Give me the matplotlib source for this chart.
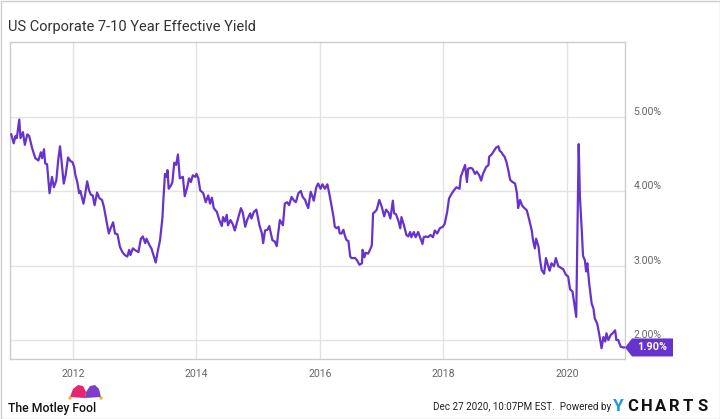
import matplotlib
matplotlib.use('Agg')
import matplotlib.pyplot as plt
from matplotlib.patches import Rectangle, Polygon, Circle
import matplotlib.transforms as mtransforms

# US Corporate 7-10 Year Effective Yield (decimal year, %)
years = [
    2011.00, 2011.04, 2011.07, 2011.09, 2011.13, 2011.15, 2011.19, 2011.22, 2011.26, 2011.29,
    2011.34, 2011.39, 2011.44, 2011.48, 2011.50, 2011.53, 2011.55, 2011.58, 2011.62, 2011.66,
    2011.69, 2011.73, 2011.76, 2011.79, 2011.81, 2011.85, 2011.88, 2011.92, 2011.96, 2011.99,
    2012.02, 2012.04, 2012.07, 2012.10, 2012.12, 2012.17, 2012.20, 2012.23, 2012.26, 2012.29,
    2012.32, 2012.35, 2012.39, 2012.43, 2012.47, 2012.50, 2012.54, 2012.58, 2012.61, 2012.65,
    2012.68, 2012.72, 2012.73, 2012.76, 2012.80, 2012.84, 2012.88, 2012.91, 2012.93, 2012.97,
    2013.00, 2013.06, 2013.10, 2013.13, 2013.17, 2013.19, 2013.24, 2013.27, 2013.31, 2013.34,
    2013.37, 2013.41, 2013.45, 2013.46, 2013.49, 2013.52, 2013.53, 2013.55, 2013.59, 2013.61,
    2013.64, 2013.67, 2013.70, 2013.73, 2013.78, 2013.81, 2013.85, 2013.88, 2013.91, 2013.94,
    2013.98, 2014.00, 2014.03, 2014.06, 2014.11, 2014.15, 2014.19, 2014.22, 2014.25, 2014.28,
    2014.33, 2014.37, 2014.38, 2014.41, 2014.43, 2014.46, 2014.49, 2014.51, 2014.55, 2014.59,
    2014.62, 2014.68, 2014.72, 2014.75, 2014.79, 2014.82, 2014.87, 2014.89, 2014.93, 2014.97,
    2015.02, 2015.06, 2015.08, 2015.11, 2015.15, 2015.18, 2015.20, 2015.23, 2015.27, 2015.30,
    2015.32, 2015.35, 2015.40, 2015.43, 2015.47, 2015.50, 2015.54, 2015.58, 2015.61, 2015.65,
    2015.69, 2015.72, 2015.76, 2015.78, 2015.81, 2015.85, 2015.89, 2015.90, 2015.94, 2015.97,
    2016.01, 2016.04, 2016.08, 2016.12, 2016.15, 2016.19, 2016.22, 2016.24, 2016.27, 2016.30,
    2016.32, 2016.35, 2016.38, 2016.40, 2016.43, 2016.46, 2016.49, 2016.51, 2016.57, 2016.60,
    2016.64, 2016.68, 2016.69, 2016.72, 2016.74, 2016.78, 2016.81, 2016.84, 2016.86, 2016.89,
    2016.92, 2016.96, 2017.00, 2017.04, 2017.07, 2017.11, 2017.14, 2017.18, 2017.20, 2017.23,
    2017.27, 2017.30, 2017.32, 2017.36, 2017.40, 2017.43, 2017.46, 2017.48, 2017.52, 2017.55,
    2017.59, 2017.63, 2017.66, 2017.68, 2017.72, 2017.75, 2017.79, 2017.83, 2017.86, 2017.90,
    2017.94, 2017.99, 2018.02, 2018.06, 2018.09, 2018.13, 2018.17, 2018.21, 2018.26, 2018.28,
    2018.31, 2018.35, 2018.38, 2018.40, 2018.44, 2018.47, 2018.51, 2018.54, 2018.58, 2018.61,
    2018.64, 2018.69, 2018.73, 2018.74, 2018.78, 2018.82, 2018.85, 2018.89, 2018.91, 2018.94,
    2018.96, 2018.99, 2019.02, 2019.05, 2019.08, 2019.12, 2019.16, 2019.19, 2019.21, 2019.24,
    2019.27, 2019.30, 2019.35, 2019.39, 2019.43, 2019.45, 2019.48, 2019.50, 2019.54, 2019.56,
    2019.59, 2019.63, 2019.66, 2019.70, 2019.72, 2019.75, 2019.79, 2019.82, 2019.86, 2019.90,
    2019.94, 2019.98, 2020.02, 2020.05, 2020.09, 2020.11, 2020.15, 2020.19, 2020.21, 2020.24,
    2020.26, 2020.29, 2020.31, 2020.33, 2020.36, 2020.40, 2020.43, 2020.45, 2020.49, 2020.52,
    2020.56, 2020.59, 2020.62, 2020.64, 2020.67, 2020.71, 2020.74, 2020.78, 2020.80, 2020.83,
    2020.87, 2020.91, 2020.96,
]
yields = [
    4.76, 4.64, 4.74, 4.71, 4.96, 4.71, 4.79, 4.62, 4.76, 4.74,
    4.57, 4.44, 4.41, 4.52, 4.44, 4.56, 4.37, 4.36, 3.97, 4.19,
    4.05, 4.14, 4.41, 4.60, 4.44, 4.10, 4.21, 4.45, 4.40, 4.39,
    4.32, 4.21, 4.12, 3.97, 4.00, 3.83, 3.97, 4.13, 4.01, 3.95,
    3.94, 3.81, 3.98, 3.90, 3.88, 3.79, 3.61, 3.43, 3.50, 3.58,
    3.43, 3.42, 3.38, 3.25, 3.18, 3.14, 3.12, 3.21, 3.14, 3.23,
    3.21, 3.18, 3.36, 3.39, 3.30, 3.36, 3.27, 3.23, 3.12, 3.04,
    3.18, 3.34, 3.65, 3.83, 4.23, 4.19, 4.28, 4.03, 4.08, 4.12,
    4.38, 4.35, 4.49, 4.17, 4.19, 3.93, 4.05, 4.17, 4.12, 4.21,
    4.19, 4.23, 4.17, 4.01, 3.97, 3.85, 3.94, 3.83, 3.91, 3.77,
    3.72, 3.61, 3.59, 3.53, 3.65, 3.59, 3.68, 3.54, 3.61, 3.55,
    3.47, 3.65, 3.77, 3.71, 3.52, 3.61, 3.70, 3.63, 3.72, 3.75,
    3.54, 3.43, 3.30, 3.47, 3.48, 3.53, 3.45, 3.34, 3.32, 3.26,
    3.41, 3.61, 3.54, 3.83, 3.85, 3.81, 3.92, 3.87, 3.85, 3.97,
    4.00, 3.92, 3.88, 3.83, 3.77, 3.99, 3.90, 3.87, 4.05, 4.10,
    4.03, 4.09, 4.03, 4.09, 3.97, 3.79, 3.65, 3.52, 3.50, 3.52,
    3.43, 3.43, 3.48, 3.41, 3.34, 3.33, 3.12, 3.10, 3.10, 3.07,
    3.01, 3.03, 3.21, 3.11, 3.17, 3.16, 3.21, 3.27, 3.70, 3.72,
    3.75, 3.88, 3.79, 3.66, 3.75, 3.71, 3.63, 3.87, 3.70, 3.69,
    3.60, 3.50, 3.65, 3.54, 3.41, 3.39, 3.45, 3.38, 3.45, 3.38,
    3.45, 3.36, 3.29, 3.38, 3.39, 3.38, 3.41, 3.38, 3.47, 3.43,
    3.50, 3.52, 3.56, 3.72, 3.90, 3.96, 4.01, 4.05, 4.03, 4.19,
    4.26, 4.35, 4.12, 4.30, 4.31, 4.30, 4.23, 4.26, 4.21, 4.14,
    4.23, 4.32, 4.35, 4.46, 4.49, 4.54, 4.58, 4.60, 4.54, 4.52,
    4.49, 4.46, 4.39, 4.28, 4.15, 4.12, 4.10, 3.97, 3.77, 3.88,
    3.81, 3.78, 3.74, 3.61, 3.47, 3.34, 3.23, 3.36, 3.25, 3.10,
    2.94, 2.89, 3.10, 2.98, 2.93, 3.03, 2.99, 3.10, 2.99, 2.97,
    2.95, 2.88, 2.85, 2.68, 2.65, 2.54, 2.31, 4.63, 3.92, 3.47,
    3.13, 3.07, 2.92, 3.03, 2.76, 2.49, 2.42, 2.29, 2.22, 2.09,
    1.89, 2.04, 1.98, 2.09, 2.00, 2.07, 2.09, 2.13, 2.00, 2.00,
    1.91, 1.90, 1.90,
]

x_ticks = [2012, 2014, 2016, 2018, 2020]
y_ticks = [2.0, 3.0, 4.0, 5.0]

title = 'US Corporate 7-10 Year Effective Yield'
stamp = 'Dec 27 2020, 10:07PM EST.'

line_color = '#6633cc'
grid_color = '#e3e3e3'
frame_color = '#cccccc'
text_color = '#666666'

plt.rcParams['font.family'] = ['Roboto', 'DejaVu Sans']

fig = plt.figure(figsize=(7.2, 4.19), dpi=100)
ax = fig.add_axes([10 / 720, 1 - 359 / 419, 615 / 720, 317 / 419])

ax.plot(years, yields, color=line_color, linewidth=1.6, solid_joinstyle='round', zorder=3)

ax.set_xlim(2010.98, 2020.94)
ax.set_ylim(1.745, 6.0)

ax.set_xticks(x_ticks)
ax.set_xticklabels([str(y) for y in x_ticks])
ax.set_yticks(y_ticks)
ax.set_yticklabels(['{0:.2f}%'.format(v) for v in y_ticks])
ax.yaxis.tick_right()
ax.tick_params(axis='x', length=0, pad=7, labelsize=7.6, labelcolor=text_color)
ax.tick_params(axis='y', length=0, pad=6, labelsize=7.6, labelcolor=text_color)
for lab in ax.get_yticklabels():
    lab.set_verticalalignment('bottom')

ax.grid(True, color=grid_color, linewidth=1.0)
ax.set_axisbelow(True)
for side in ['left', 'right', 'top', 'bottom']:
    ax.spines[side].set_color(frame_color)
    ax.spines[side].set_linewidth(1.0)

# last value tag: pentagon pointing at the end of the line
last = yields[-1]
anchor = mtransforms.blended_transform_factory(ax.transAxes, ax.transData)
tag_tr = fig.dpi_scale_trans + mtransforms.ScaledTranslation(1.0, last, anchor)
tag = Polygon([(0.0, 0.0), (0.07, 0.09), (0.48, 0.09), (0.48, -0.09), (0.07, -0.09)],
              closed=True, transform=tag_tr, facecolor=line_color, edgecolor='none',
              clip_on=False, zorder=5)
ax.add_patch(tag)
ax.text(0.275, 0.0, '{0:.2f}%'.format(last), transform=tag_tr,
        ha='center', va='center', color='white', fontsize=7.8, fontweight='bold',
        clip_on=False, zorder=6)

# title
fig.text(8 / 720, 1 - 27 / 419, title, fontsize=10.5, color='#333333', va='center', ha='left')

# footer: Motley Fool logo
fig.text(8 / 720, 1 - 408 / 419, 'The Motley Fool', fontsize=8.8, color='#111111',
         va='center', ha='left', fontweight='medium')
hat_l = [(70, 397), (73, 389), (78, 385), (83, 386), (86, 392), (85, 398)]
hat_r = [(85, 398), (86, 392), (90, 386), (95, 385), (99, 389), (101, 397)]
for pts, col in [(hat_l, '#e8236f'), (hat_r, '#7d3fc8')]:
    fig.patches.append(Polygon([(px, 419 - py) for px, py in pts], closed=True,
                               transform=None, facecolor=col, edgecolor='none'))
for cx in [70, 101]:
    fig.patches.append(Circle((cx, 419 - 398), 1.7, transform=None,
                              facecolor='#f3b71a', edgecolor='none'))

# footer: timestamp and YCharts mark
fig.text(611 / 720, 1 - 407 / 419, stamp + '  Powered by', fontsize=7.1, color='#222222',
         va='center', ha='right')
fig.text(613 / 720, 1 - 406 / 419, 'Y', fontsize=12.5, color='#1e9bd7',
         va='center', ha='left', fontweight='bold')
for i, ch in enumerate('CHARTS'):
    fig.text((627 + i * 14) / 720, 1 - 406 / 419, ch, fontsize=12, color='#111111',
             va='center', ha='left', fontweight='bold')

# outer border
fig.patches.append(Rectangle((0.5, 0.5), 719, 418, transform=None, fill=False,
                             edgecolor=frame_color, linewidth=1.0))

fig.savefig('out.png', dpi=100)
